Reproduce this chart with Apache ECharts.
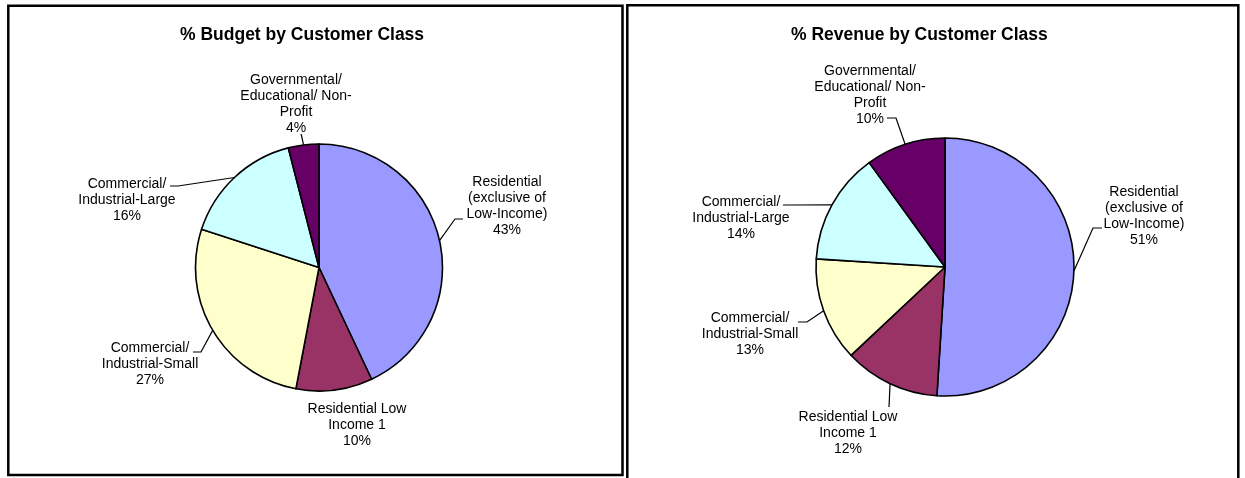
<!DOCTYPE html>
<html>
<head>
<meta charset="utf-8">
<script src="https://cdn.jsdelivr.net/npm/echarts@6/dist/echarts.min.js"></script>
<style>
  html, body { margin: 0; padding: 0; background: #fff; }
  #chart { width: 1245px; height: 478px; }
</style>
</head>
<body>
<div id="chart"></div>
<script>
// ---- data ----
const categories = [
  'Residential (exclusive of Low-Income)',
  'Residential Low Income 1',
  'Commercial/ Industrial-Small',
  'Commercial/ Industrial-Large',
  'Governmental/ Educational/ Non-Profit'
];
const labelTexts = [
  'Residential\n(exclusive of\nLow-Income)',
  'Residential Low\nIncome 1',
  'Commercial/\nIndustrial-Small',
  'Commercial/\nIndustrial-Large',
  'Governmental/\nEducational/ Non-\nProfit'
];
const budgetValues = [43, 10, 27, 16, 4];
const revenueValues = [51, 12, 13, 14, 10];
const chartTitles = ['% Budget by Customer Class', '% Revenue by Customer Class'];

// ---- styles / layout ----
const sliceColors = ['#9999FF', '#993366', '#FFFFCC', '#CCFFFF', '#660066'];
const FONT = "'Liberation Sans', Arial, Helvetica, sans-serif";

const pieGeom = [
  { center: [319, 267.5], radius: 123.5 },
  { center: [945, 267], radius: 129 }
];
// label anchor (center x, top y) and leader bend/end points
const labelPlacement = [
  [
    { x: 507, y: 174, line: [[455, 219], [463, 219]] },
    { x: 357, y: 401, line: null },
    { x: 150, y: 340, line: [[201, 352], [193, 352]] },
    { x: 127, y: 176, line: [[178, 186], [170, 186]] },
    { x: 296, y: 72, line: [[301.5, 135.5], [301, 134]] }
  ],
  [
    { x: 1144, y: 184, line: [[1093, 228], [1102, 228]] },
    { x: 848, y: 409, line: [[889, 407], [889, 407]] },
    { x: 750, y: 310, line: [[807, 322], [798, 322]] },
    { x: 741, y: 194, line: [[791, 205], [783, 205]] },
    { x: 870, y: 63, line: [[896, 118], [887, 118]] }
  ]
];

function edgePoint(seriesIdx, dataIdx) {
  const vals = seriesIdx === 0 ? budgetValues : revenueValues;
  const total = vals.reduce((a, b) => a + b, 0);
  let before = 0;
  for (let i = 0; i < dataIdx; i++) before += vals[i];
  const midFrac = (before + vals[dataIdx] / 2) / total;
  const ang = (90 - midFrac * 360) * Math.PI / 180;
  const g = pieGeom[seriesIdx];
  return [g.center[0] + g.radius * Math.cos(ang), g.center[1] - g.radius * Math.sin(ang)];
}

function makeSeries(idx, values) {
  return {
    type: 'pie',
    center: pieGeom[idx].center,
    radius: pieGeom[idx].radius,
    startAngle: 90,
    clockwise: true,
    avoidLabelOverlap: false,
    animation: false,
    silent: true,
    data: values.map((v, i) => ({
      value: v,
      name: categories[i],
      labelLine: { show: !!labelPlacement[idx][i].line }
    })),
    itemStyle: { borderColor: '#000', borderWidth: 1.6 },
    label: {
      show: true,
      position: 'outside',
      color: '#000',
      fontFamily: FONT,
      fontSize: 14,
      lineHeight: 16,
      formatter: p => labelTexts[p.dataIndex] + '\n' + Math.round(p.percent) + '%'
    },
    labelLine: {
      show: true,
      length: 10,
      length2: 8,
      smooth: false,
      lineStyle: { color: '#000', width: 1.2 }
    },
    labelLayout: function (params) {
      const lp = labelPlacement[idx][params.dataIndex];
      const out = { x: lp.x, y: lp.y, align: 'center', verticalAlign: 'top' };
      if (lp.line) {
        const p0 = (params.labelLinePoints && params.labelLinePoints[0]) || edgePoint(idx, params.dataIndex);
        out.labelLinePoints = [p0, lp.line[0], lp.line[1]];
      }
      return out;
    }
  };
}

const chart = echarts.init(document.getElementById('chart'), null, { renderer: 'canvas' });
chart.setOption({
  animation: false,
  backgroundColor: '#fff',
  color: sliceColors,
  title: [
    {
      text: chartTitles[0], left: 180, top: 25, padding: 0,
      textStyle: { fontFamily: FONT, fontSize: 17.5, fontWeight: 'bold', color: '#000', lineHeight: 20 }
    },
    {
      text: chartTitles[1], left: 791, top: 25, padding: 0,
      textStyle: { fontFamily: FONT, fontSize: 17.5, fontWeight: 'bold', color: '#000', lineHeight: 20 }
    }
  ],
  graphic: [
    {
      type: 'rect', silent: true,
      shape: { x: 8.3, y: 5.7, width: 614.2, height: 469.3 },
      style: { fill: 'none', stroke: '#000', lineWidth: 2.5 }
    },
    {
      type: 'rect', silent: true,
      shape: { x: 627.3, y: 5.3, width: 611, height: 490 },
      style: { fill: 'none', stroke: '#000', lineWidth: 2.5 }
    }
  ],
  series: [makeSeries(0, budgetValues), makeSeries(1, revenueValues)]
});
</script>
</body>
</html>
